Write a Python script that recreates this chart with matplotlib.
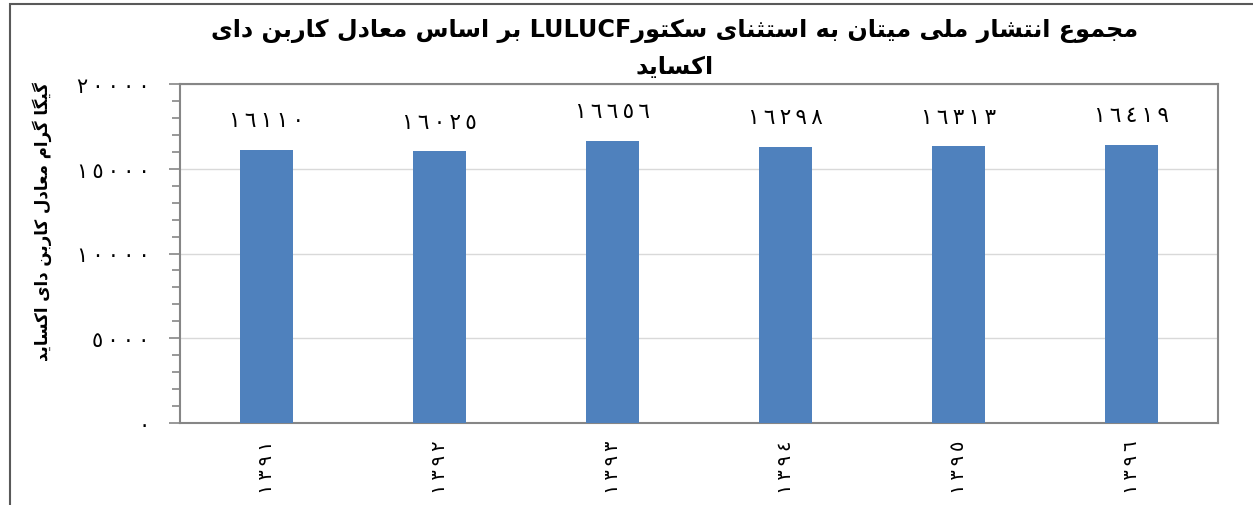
import matplotlib
matplotlib.use('Agg')
import matplotlib.pyplot as plt
from matplotlib.ticker import MultipleLocator
from matplotlib.patches import Rectangle

# داده‌ها
title_lines = ['مجموع انتشار ملی میتان به استثنای سکتورLULUCF بر اساس معادل کاربن دای',
               'اکساید']
y_label = 'گیگا گرام معادل کاربن دای اکساید'
years = [1391, 1392, 1393, 1394, 1395, 1396]
values = [16110, 16025, 16656, 16298, 16313, 16419]
y_ticks = [0, 5000, 10000, 15000, 20000]

# اشکال حروف (منفرد، پایانی، آغازی، میانی)
FORMS = {
    'ا': (0xFE8D, 0xFE8E), 'د': (0xFEA9, 0xFEAA), 'ذ': (0xFEAB, 0xFEAC),
    'ر': (0xFEAD, 0xFEAE), 'ز': (0xFEAF, 0xFEB0), 'ژ': (0xFB8A, 0xFB8B),
    'و': (0xFEED, 0xFEEE),
    'ب': (0xFE8F, 0xFE90, 0xFE91, 0xFE92), 'پ': (0xFB56, 0xFB57, 0xFB58, 0xFB59),
    'ت': (0xFE95, 0xFE96, 0xFE97, 0xFE98), 'ث': (0xFE99, 0xFE9A, 0xFE9B, 0xFE9C),
    'ج': (0xFE9D, 0xFE9E, 0xFE9F, 0xFEA0), 'چ': (0xFB7A, 0xFB7B, 0xFB7C, 0xFB7D),
    'ح': (0xFEA1, 0xFEA2, 0xFEA3, 0xFEA4), 'خ': (0xFEA5, 0xFEA6, 0xFEA7, 0xFEA8),
    'س': (0xFEB1, 0xFEB2, 0xFEB3, 0xFEB4), 'ش': (0xFEB5, 0xFEB6, 0xFEB7, 0xFEB8),
    'ع': (0xFEC9, 0xFECA, 0xFECB, 0xFECC), 'غ': (0xFECD, 0xFECE, 0xFECF, 0xFED0),
    'ف': (0xFED1, 0xFED2, 0xFED3, 0xFED4), 'ق': (0xFED5, 0xFED6, 0xFED7, 0xFED8),
    'ک': (0xFB8E, 0xFB8F, 0xFB90, 0xFB91), 'گ': (0xFB92, 0xFB93, 0xFB94, 0xFB95),
    'ل': (0xFEDD, 0xFEDE, 0xFEDF, 0xFEE0), 'م': (0xFEE1, 0xFEE2, 0xFEE3, 0xFEE4),
    'ن': (0xFEE5, 0xFEE6, 0xFEE7, 0xFEE8), 'ه': (0xFEE9, 0xFEEA, 0xFEEB, 0xFEEC),
    'ی': (0xFBFC, 0xFBFD, 0xFBFE, 0xFBFF),
}
LTR = set('ABCDEFGHIJKLMNOPQRSTUVWXYZabcdefghijklmnopqrstuvwxyz0123456789٠١٢٣٤٥٦٧٨٩')


def shape(text):
    out = []
    for i, ch in enumerate(text):
        if ch not in FORMS:
            out.append(ch)
            continue
        f = FORMS[ch]
        prev = i > 0 and text[i - 1] in FORMS and len(FORMS[text[i - 1]]) == 4
        nxt = len(f) == 4 and i + 1 < len(text) and text[i + 1] in FORMS
        if prev and nxt:
            out.append(chr(f[3]))
        elif prev:
            out.append(chr(f[1]))
        elif nxt:
            out.append(chr(f[2]))
        else:
            out.append(chr(f[0]))
    # ترتیب نمایشی راست به چپ
    rev = ''.join(out)[::-1]
    res, run = '', ''
    for ch in rev:
        if ch in LTR:
            run += ch
        else:
            res += run[::-1] + ch
            run = ''
    return res + run[::-1]


def ar_num(n):
    # ارقام عربی با فاصله باریک میان آنها
    s = str(n).translate(str.maketrans('0123456789', '٠١٢٣٤٥٦٧٨٩'))
    return '\u2009'.join(s)


plt.rcParams['font.family'] = ['DejaVu Sans']

fig = plt.figure(figsize=(12.53, 5.06), dpi=100)
ax = fig.add_axes([180 / 1253, 1 - 424 / 506, (1218 - 180) / 1253, (424 - 85) / 506])

x = list(range(len(years)))
bars = ax.bar(x, values, width=0.31, color='#4f81bd', zorder=3)
ax.bar_label(bars, labels=[ar_num(v) for v in values], padding=14, fontsize=15.5)

ax.set_xlim(-0.5, len(years) - 0.5)
ax.set_ylim(0, 20000)
ax.set_yticks(y_ticks)
ax.set_yticklabels([ar_num(v) for v in y_ticks], fontsize=15)
ax.yaxis.set_minor_locator(MultipleLocator(1000))
ax.set_xticks(x)
ax.set_xticklabels([ar_num(y) for y in years], rotation=90, fontsize=14, va='top')
ax.tick_params(axis='x', length=0, pad=12)
ax.tick_params(axis='y', which='major', length=8, width=1.2, color='#868686', pad=14)
ax.tick_params(axis='y', which='minor', length=5.5, width=1.2, color='#868686')
ax.grid(axis='y', color='#d9d9d9', linewidth=1, zorder=0)

for s in ax.spines.values():
    s.set_color('#868686')
    s.set_linewidth(1.5)

ax.set_ylabel(shape(y_label), fontsize=12, fontweight='bold')
ax.yaxis.set_label_coords((52 - 180) / 1038, (424 - 222) / 339)

fig.text(675 / 1253, 1 - 49 / 506, '\n'.join(shape(t) for t in title_lines),
         ha='center', va='center', fontsize=17.2, fontweight='bold', linespacing=1.65)

# قاب بیرونی
fig.patches.append(Rectangle((10 / 1253, -0.1), 1.2, 1.1 - 5 / 506, transform=fig.transFigure,
                             fill=False, edgecolor='#595959', linewidth=1.5))

fig.savefig('out.png', dpi=100)
